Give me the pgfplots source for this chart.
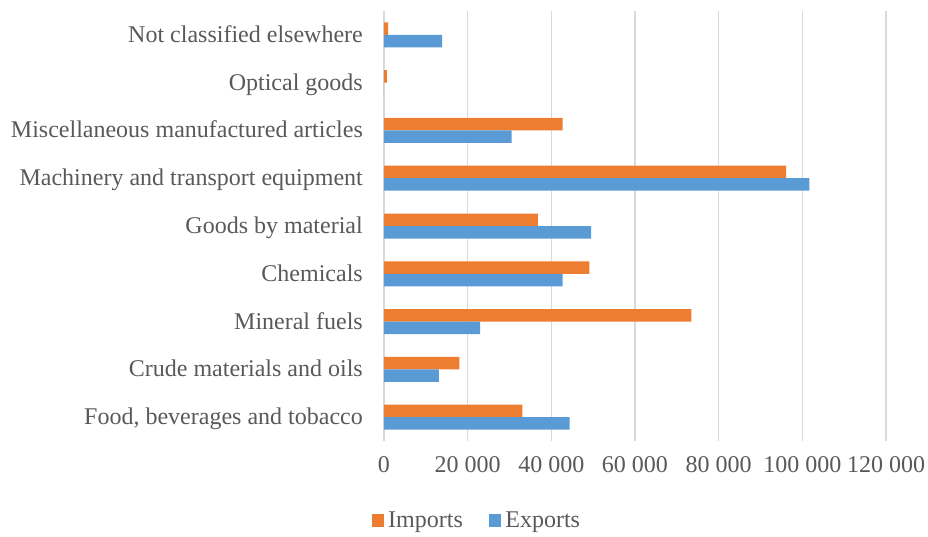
\documentclass[border=0pt]{standalone}
\usepackage{fontspec}
\setmainfont{Liberation Serif}
\usepackage{pgfplots}
\pgfplotsset{compat=1.18}
\definecolor{imp}{HTML}{ED7D31}
\definecolor{expc}{HTML}{5B9BD5}
\definecolor{txt}{HTML}{595959}
\definecolor{gridc}{HTML}{D9D9D9}
\begin{document}
\begin{tikzpicture}
\begin{axis}[
  scale only axis, width=502pt, height=430pt,
  xbar, bar width=12.5pt,
  xmin=0, xmax=120000,
  ymin=-0.5, ymax=8.5,
  scaled x ticks=false,
  ytick={0,1,2,3,4,5,6,7,8},
  yticklabels={{Food, beverages and tobacco},{Crude materials and oils},{Mineral fuels},{Chemicals},{Goods by material},{Machinery and transport equipment},{Miscellaneous manufactured articles},{Optical goods},{Not classified elsewhere}},
  xtick={0,20000,40000,60000,80000,100000,120000},
  xticklabels={0,{20 000},{40 000},{60 000},{80 000},{100 000},{120 000}},
  xmajorgrids, major grid style={draw=gridc, line width=1.5pt},
  axis line style={draw=none}, major tick length=0pt,
  ticklabel style={font=\fontsize{24}{28}\selectfont, text=txt},
  yticklabel style={anchor=base east, inner sep=0pt, xshift=-21pt, yshift=-7.5pt},
  xticklabel style={yshift=-12pt},
  legend style={at={(0.187,-0.184)}, anchor=center, draw=none, fill=none,
    legend columns=2, font=\fontsize{24}{28}\selectfont, text=txt,
    nodes={inner xsep=4pt, inner ysep=0pt},
    /tikz/every even column/.append style={column sep=22pt}},
  legend image code/.code={\fill[#1] (0pt,-6.5pt) rectangle (12.5pt,6.5pt);},
]
\addplot[fill=imp, draw=none, bar shift=6.25pt] coordinates {
  (33100,0) (18000,1) (73450,2) (49070,3) (36800,4) (96150,5) (42700,6) (700,7) (1000,8)};
\addlegendentry{Imports}
\addplot[fill=expc, draw=none, bar shift=-6.25pt] coordinates {
  (44400,0) (13100,1) (23000,2) (42700,3) (49500,4) (101700,5) (30500,6) (0,7) (13900,8)};
\addlegendentry{Exports}
\coordinate (sw) at (rel axis cs:0,0);
\end{axis}
\pgfresetboundingbox
\path ([shift={(-384pt,-95pt)}]sw) rectangle ([shift={(544pt,441pt)}]sw);
\end{tikzpicture}
\end{document}
